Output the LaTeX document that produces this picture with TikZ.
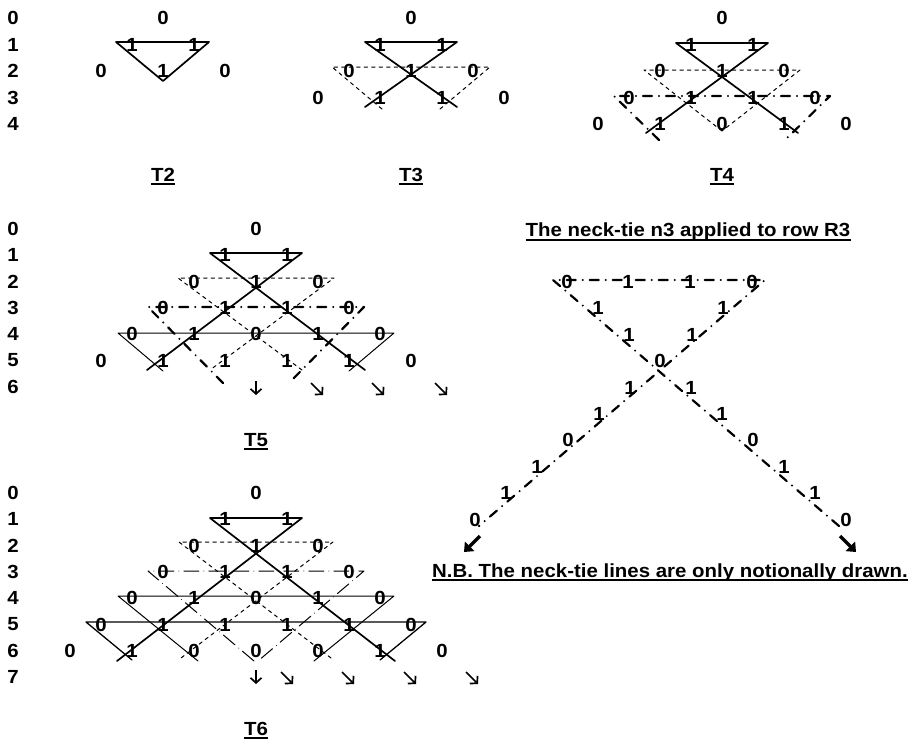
\documentclass[tikz,border=0pt]{standalone}
\usepackage{fontspec}
\setmainfont{Liberation Sans}[FakeStretch=1.075]
\usetikzlibrary{arrows.meta}
\begin{document}
\begin{tikzpicture}[x=1pt,y=-1pt,line cap=round,line join=round,
  every node/.style={inner sep=0pt,font=\fontsize{19}{22}\selectfont\bfseries},
  tiethick/.style={line width=1.7pt},
  tiethin/.style={line width=1pt},
  tiemid/.style={line width=1.3pt},
  tiedash/.style={line width=1pt,dash pattern=on 3.5pt off 4pt},
  tiedot/.style={line width=2.2pt,dash pattern=on 9pt off 7pt on 0pt off 7pt},
  tiedotthin/.style={line width=1pt,dash pattern=on 15pt off 5pt on 0pt off 5pt},
  uline/.style={line width=1.4pt,line cap=butt},
  smallarr/.style={line width=1.7pt,line cap=butt,-{Straight Barb[length=5pt,width=11pt,line width=1.7pt]}},
  bigarr/.style={line width=3.4pt,line cap=butt,-{Triangle[length=8pt,width=13pt]}}]
 \useasboundingbox (0,0) rectangle (909,742);
 % row numbers
 \node (ra0) at (13,18) {0}; \node (ra1) at (13,44.5) {1}; \node (ra2) at (13,71) {2};
 \node (ra3) at (13,97.5) {3}; \node (ra4) at (13,124) {4};
 \node (rb0) at (13,229) {0}; \node (rb1) at (13,255.3) {1}; \node (rb2) at (13,281.6) {2};
 \node (rb3) at (13,307.9) {3}; \node (rb4) at (13,334.2) {4}; \node (rb5) at (13,360.5) {5};
 \node (rb6) at (13,386.8) {6};
 \node (rc0) at (13,493) {0}; \node (rc1) at (13,519.3) {1}; \node (rc2) at (13,545.6) {2};
 \node (rc3) at (13,571.9) {3}; \node (rc4) at (13,598.2) {4}; \node (rc5) at (13,624.5) {5};
 \node (rc6) at (13,650.8) {6}; \node (rc7) at (13,677.1) {7};
 % T2
 \begin{scope}[shift={(163,18)}]
   \draw[tiethick] (-47,24) -- (46,24) -- (0,63) -- cycle;
   \node (t2r0) at (0,0) {0};
   \node (t2r1a) at (-31,26.5) {1}; \node (t2r1b) at (31,26.5) {1};
   \node (t2r2a) at (-62,53) {0}; \node (t2r2b) at (0,53) {1}; \node (t2r2c) at (62,53) {0};
   \node[anchor=base] (t2) at (0,163) {T2};
   \draw[uline] ([yshift=-3pt]t2.base west) -- ([yshift=-3pt]t2.base east);
 \end{scope}
 % T3
 \begin{scope}[shift={(411,18)}]
   \draw[tiethick] (46,89) -- (-46,24) -- (46,24) -- (-46,89);
   \draw[tiedash] (-29,91) -- (-79,49) -- (79,49) -- (29,91);
   \node (t3r0) at (0,0) {0};
   \node (t3r1a) at (-31,26.5) {1}; \node (t3r1b) at (31,26.5) {1};
   \node (t3r2a) at (-62,53) {0}; \node (t3r2b) at (0,53) {1}; \node (t3r2c) at (62,53) {0};
   \node (t3r3a) at (-93,79.5) {0}; \node (t3r3b) at (-31,79.5) {1};
   \node (t3r3c) at (31,79.5) {1}; \node (t3r3d) at (93,79.5) {0};
   \node[anchor=base] (t3) at (0,163) {T3};
   \draw[uline] ([yshift=-3pt]t3.base west) -- ([yshift=-3pt]t3.base east);
 \end{scope}
 % T4
 \begin{scope}[shift={(722,18)}]
   \draw[tiethick] (76,115) -- (-46,25) -- (46,25) -- (-76,115);
   \draw[tiedash] (0,113) -- (-78,52) -- (78,52) -- cycle;
   \draw[tiedot] (-63,122) -- (-108,78) -- (108,78) -- (63,122);
   \node (t4r0) at (0,0) {0};
   \node (t4r1a) at (-31,26.5) {1}; \node (t4r1b) at (31,26.5) {1};
   \node (t4r2a) at (-62,53) {0}; \node (t4r2b) at (0,53) {1}; \node (t4r2c) at (62,53) {0};
   \node (t4r3a) at (-93,79.5) {0}; \node (t4r3b) at (-31,79.5) {1};
   \node (t4r3c) at (31,79.5) {1}; \node (t4r3d) at (93,79.5) {0};
   \node (t4r4a) at (-124,106) {0}; \node (t4r4b) at (-62,106) {1}; \node (t4r4c) at (0,106) {0};
   \node (t4r4d) at (62,106) {1}; \node (t4r4e) at (124,106) {0};
   \node[anchor=base] (t4) at (0,163) {T4};
   \draw[uline] ([yshift=-3pt]t4.base west) -- ([yshift=-3pt]t4.base east);
 \end{scope}
 % T5
 \begin{scope}[shift={(256,229)}]
   \draw[tiethick] (109,141) -- (-46,24) -- (46,24) -- (-109,141);
   \draw[tiedash] (46,141) -- (-78,49) -- (78,49) -- (-46,141);
   \draw[tiedot] (-33,154) -- (-108,78) -- (108,78) -- (33,154);
   \draw[tiethin] (-93,142) -- (-138,104) -- (138,104) -- (93,142);
   \node (t5r0) at (0,0) {0};
   \node (t5r1a) at (-31,26.3) {1}; \node (t5r1b) at (31,26.3) {1};
   \node (t5r2a) at (-62,52.6) {0}; \node (t5r2b) at (0,52.6) {1}; \node (t5r2c) at (62,52.6) {0};
   \node (t5r3a) at (-93,78.9) {0}; \node (t5r3b) at (-31,78.9) {1};
   \node (t5r3c) at (31,78.9) {1}; \node (t5r3d) at (93,78.9) {0};
   \node (t5r4a) at (-124,105.2) {0}; \node (t5r4b) at (-62,105.2) {1}; \node (t5r4c) at (0,105.2) {0};
   \node (t5r4d) at (62,105.2) {1}; \node (t5r4e) at (124,105.2) {0};
   \node (t5r5a) at (-155,131.5) {0}; \node (t5r5b) at (-93,131.5) {1}; \node (t5r5c) at (-31,131.5) {1};
   \node (t5r5d) at (31,131.5) {1}; \node (t5r5e) at (93,131.5) {1}; \node (t5r5f) at (155,131.5) {0};
   \coordinate (t5d) at (0,159);
   \coordinate (t5e1) at (61,160); \coordinate (t5e2) at (122,160); \coordinate (t5e3) at (185,160);
   \draw[smallarr] ([yshift=7pt]t5d) -- ([yshift=-7pt]t5d);
   \foreach \p in {t5e1,t5e2,t5e3}
     \draw[smallarr] ([xshift=-6pt,yshift=6pt]\p) -- ([xshift=6pt,yshift=-6pt]\p);
   \node[anchor=base] (t5) at (0,217) {T5};
   \draw[uline] ([yshift=-3pt]t5.base west) -- ([yshift=-3pt]t5.base east);
 \end{scope}
 % T6
 \begin{scope}[shift={(256,493)}]
   \draw[tiethick] (139,168) -- (-46,25) -- (46,25) -- (-139,168);
   \draw[tiedash] (75,165) -- (-77,49) -- (77,49) -- (-75,165);
   \draw[tiedotthin] (-2,168) -- (-108,78) -- (108,78) -- (2,168);
   \draw[tiethin] (-58,168) -- (-138,103) -- (138,103) -- (58,168);
   \draw[tiemid] (-124,167) -- (-170,129) -- (170,129) -- (124,167);
   \node (t6r0) at (0,0) {0};
   \node (t6r1a) at (-31,26.3) {1}; \node (t6r1b) at (31,26.3) {1};
   \node (t6r2a) at (-62,52.6) {0}; \node (t6r2b) at (0,52.6) {1}; \node (t6r2c) at (62,52.6) {0};
   \node (t6r3a) at (-93,78.9) {0}; \node (t6r3b) at (-31,78.9) {1};
   \node (t6r3c) at (31,78.9) {1}; \node (t6r3d) at (93,78.9) {0};
   \node (t6r4a) at (-124,105.2) {0}; \node (t6r4b) at (-62,105.2) {1}; \node (t6r4c) at (0,105.2) {0};
   \node (t6r4d) at (62,105.2) {1}; \node (t6r4e) at (124,105.2) {0};
   \node (t6r5a) at (-155,131.5) {0}; \node (t6r5b) at (-93,131.5) {1}; \node (t6r5c) at (-31,131.5) {1};
   \node (t6r5d) at (31,131.5) {1}; \node (t6r5e) at (93,131.5) {1}; \node (t6r5f) at (155,131.5) {0};
   \node (t6r6a) at (-186,157.8) {0}; \node (t6r6b) at (-124,157.8) {1}; \node (t6r6c) at (-62,157.8) {0};
   \node (t6r6d) at (0,157.8) {0}; \node (t6r6e) at (62,157.8) {0}; \node (t6r6f) at (124,157.8) {1};
   \node (t6r6g) at (186,157.8) {0};
   \coordinate (t6d) at (0,184);
   \coordinate (t6e1) at (31,185); \coordinate (t6e2) at (92,185);
   \coordinate (t6e3) at (154,185); \coordinate (t6e4) at (216,185);
   \draw[smallarr] ([yshift=7pt]t6d) -- ([yshift=-7pt]t6d);
   \foreach \p in {t6e1,t6e2,t6e3,t6e4}
     \draw[smallarr] ([xshift=-6pt,yshift=6pt]\p) -- ([xshift=6pt,yshift=-6pt]\p);
   \node[anchor=base] (t6) at (0,242) {T6};
   \draw[uline] ([yshift=-3pt]t6.base west) -- ([yshift=-3pt]t6.base east);
 \end{scope}
 % the neck-tie n3 on its own
 \node[anchor=base] (ttl) at (688,236) {The neck-tie n3 applied to row R3};
 \draw[uline] ([yshift=-4pt]ttl.base west) -- ([yshift=-4pt]ttl.base east);
 \begin{scope}[shift={(659,282)}]
   \draw[tiedot] (180,244) -- (-106,-2) -- (106,-2) -- (-180,244);
   \node (n3a) at (-92,0) {0}; \node (n3b) at (-31,0) {1};
   \node (n3c) at (31,0) {1}; \node (n3d) at (93,0) {0};
   \node (n3l1) at (-61,26.4) {1}; \node (n3l2) at (-30,52.8) {1}; \node (n3m) at (1,79.2) {0};
   \node (n3l4) at (32,105.6) {1}; \node (n3l5) at (63,132) {1}; \node (n3l6) at (94,158.4) {0};
   \node (n3l7) at (125,184.8) {1}; \node (n3l8) at (156,211.2) {1}; \node (n3l9) at (187,237.6) {0};
   \node (n3r1) at (64,26.4) {1}; \node (n3r2) at (33,52.8) {1};
   \node (n3r4) at (-29,105.6) {1}; \node (n3r5) at (-60,132) {1}; \node (n3r6) at (-91,158.4) {0};
   \node (n3r7) at (-122,184.8) {1}; \node (n3r8) at (-153,211.2) {1}; \node (n3r9) at (-184,237.6) {0};
   \coordinate (swa) at (-179,254); \coordinate (swb) at (-195,270);
   \coordinate (sea) at (181,254); \coordinate (seb) at (197,270);
   \draw[bigarr] (swa) -- (swb); \draw[bigarr] (sea) -- (seb);
 \end{scope}
 \node[anchor=base] (nb) at (670,577) {N.B. The neck-tie lines are only notionally drawn.};
 \draw[uline] ([yshift=-3pt]nb.base west) -- ([yshift=-3pt]nb.base east);
\end{tikzpicture}
\end{document}
